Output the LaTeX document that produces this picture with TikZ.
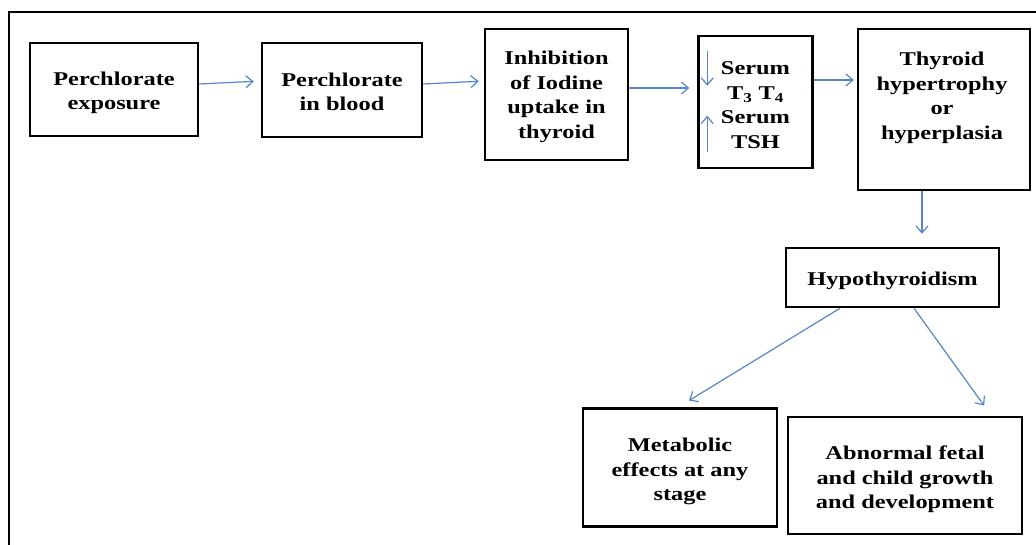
\documentclass[tikz,border=0pt]{standalone}
\usepackage{fontspec}
\setmainfont{Liberation Serif}[FakeStretch=1.25]
\usetikzlibrary{arrows.meta,calc}
\definecolor{arrowblue}{RGB}{86,134,200}
\tikzset{
  stepbox/.style={draw=black, line width=2.5pt, rectangle, inner sep=0pt},
  lbl/.style={align=center, inner sep=0pt, font=\bfseries\fontsize{19.5}{24.5}\selectfont},
  flow/.style={draw=arrowblue, line width=1.2pt,
    -{Straight Barb[length=7pt,width=12pt,line width=1.2pt]}},
  frame/.style={draw=black, line width=2.6pt}
}
\begin{document}
\begin{tikzpicture}[x=1pt,y=-1pt]
\useasboundingbox (0,0) rectangle (1036,545);

% open frame: left and top sides only
\coordinate (fbl) at (9,545);
\coordinate (ftl) at (9,12);
\coordinate (ftr) at (1036,12);
\draw[frame] (fbl) -- (ftl) -- (ftr);

% boxes
\node[stepbox, minimum width=168, minimum height=93] (b1) at (114,89.5) {};
\node[stepbox, minimum width=160, minimum height=94] (b2) at (342,90) {};
\node[stepbox, minimum width=143, minimum height=131] (b3) at (556.5,94.5) {};
\node[stepbox, minimum width=114, minimum height=132] (b4) at (755.5,102) {};
\node[stepbox, minimum width=172, minimum height=161] (b5) at (944,109.5) {};
\node[stepbox, minimum width=213, minimum height=59] (b6) at (892.5,277.5) {};
\node[stepbox, minimum width=194, minimum height=118] (b7) at (680,467.5) {};
\node[stepbox, minimum width=234, minimum height=117] (b8) at (905,475.5) {};

% box texts
\node[lbl] (t1) at ($(b1)+(0,3.5)$) {Perchlorate\\exposure};
\node[lbl] (t2) at ($(b2)+(0,2)$) {Perchlorate\\in blood};
\node[lbl] (t3) at ($(b3)+(0,2.5)$) {Inhibition\\of Iodine\\uptake in\\thyroid};
\node[lbl] (t4) at ($(b4)+(0,3)$) {Serum\\T\textsubscript{3} T\textsubscript{4}\\Serum\\TSH};
\node[lbl] (t5) at ($(b5)+(-2,-11.5)$) {Thyroid\\hypertrophy\\or\\hyperplasia};
\node[lbl] (t6) at ($(b6)+(0,3.5)$) {Hypothyroidism};
\node[lbl] (t7) at ($(b7)+(0,4)$) {Metabolic\\effects at any\\stage};
\node[lbl] (t8) at ($(b8)+(0,4)$) {Abnormal fetal\\and child growth\\and development};

% level markers inside the serum box
\coordinate (dnA) at ($(b4.north west)+(10,16)$);
\coordinate (dnB) at ($(b4.north west)+(10,51)$);
\coordinate (upA) at ($(b4.north west)+(10,117)$);
\coordinate (upB) at ($(b4.north west)+(10,81)$);
\draw[flow] (dnA) -- (dnB);
\draw[flow] (upA) -- (upB);

% connectors
\draw[flow, shorten >=7pt] ($(b1.east)+(0,-5.5)$) -- ($(b2.west)+(0,-9)$);
\draw[flow, shorten >=5pt] ($(b2.east)+(0,-6)$) -- ($(b3.west)+(0,-13.5)$);
\draw[flow, shorten >=8pt] ($(b3.east)+(0,-6.5)$) -- ($(b4.west)+(0,-14)$);
\draw[flow, shorten >=3pt] ($(b4.east)+(0,-22)$) -- ($(b5.west)+(0,-29.5)$);
\draw[flow, shorten >=13pt] ($(b5.south)+(-22,0)$) -- ($(b6.north)+(29.5,0)$);
\draw[flow, shorten >=7pt] ($(b6.south)+(-52.5,0)$) -- ($(b7.north)+(3,-3)$);
\draw[flow, shorten >=10pt] ($(b6.south)+(21.5,0)$) -- ($(b8.north)+(85,-2)$);
\end{tikzpicture}
\end{document}
